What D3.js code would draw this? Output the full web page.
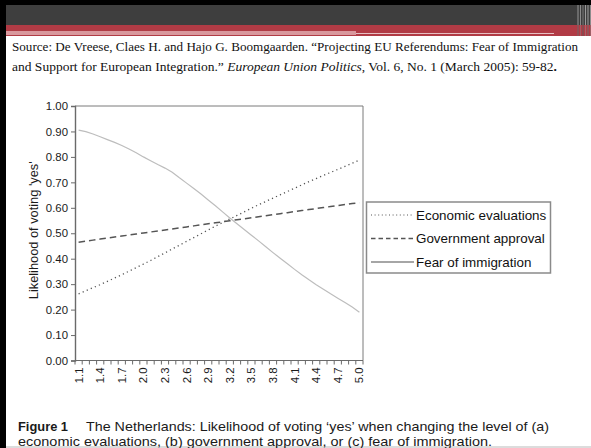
<!DOCTYPE html>
<html>
<head>
<meta charset="utf-8">
<script src="https://cdn.jsdelivr.net/npm/d3@7/dist/d3.min.js"></script>
<style>
  html, body { margin: 0; padding: 0; background: #fff; }
  svg { display: block; }
</style>
</head>
<body>
<svg id="slide" width="591" height="448"></svg>
<script>
// Predictor levels on the horizontal axis (1.1 .. 5.0)
const levels = ["1.1","1.2","1.3","1.4","1.5","1.6","1.7","1.8","1.9","2.0",
                "2.1","2.2","2.3","2.4","2.5","2.6","2.7","2.8","2.9","3.0",
                "3.1","3.2","3.3","3.4","3.5","3.6","3.7","3.8","3.9","4.0",
                "4.1","4.2","4.3","4.4","4.5","4.6","4.7","4.8","4.9","5.0"];
const shownLevels = ["1.1","1.4","1.7","2.0","2.3","2.6","2.9","3.2","3.5","3.8","4.1","4.4","4.7","5.0"];

// Predicted likelihood of voting 'yes'
const economicEvaluations = [0.262,0.274,0.286,0.298,0.311,0.324,0.337,0.351,0.365,0.379,
                             0.393,0.408,0.423,0.438,0.453,0.468,0.483,0.498,0.513,0.528,
                             0.542,0.556,0.570,0.584,0.598,0.612,0.625,0.638,0.651,0.664,
                             0.677,0.690,0.703,0.715,0.727,0.739,0.751,0.763,0.775,0.788];
const governmentApproval  = [0.465,0.469,0.473,0.477,0.481,0.485,0.489,0.493,0.497,0.501,
                             0.505,0.509,0.513,0.517,0.521,0.525,0.529,0.533,0.537,0.541,
                             0.545,0.549,0.553,0.557,0.561,0.565,0.569,0.573,0.577,0.581,
                             0.585,0.589,0.593,0.597,0.601,0.605,0.609,0.613,0.617,0.620];
const fearOfImmigration   = [0.905,0.899,0.890,0.879,0.868,0.857,0.845,0.831,0.816,0.800,
                             0.785,0.770,0.756,0.740,0.718,0.697,0.676,0.654,0.631,0.608,
                             0.584,0.560,0.537,0.515,0.492,0.470,0.447,0.424,0.402,0.380,
                             0.358,0.337,0.317,0.298,0.280,0.262,0.245,0.228,0.210,0.190];
const yTicks = [0,0.1,0.2,0.3,0.4,0.5,0.6,0.7,0.8,0.9,1.0];

const seriesNames = ["Economic evaluations","Government approval","Fear of immigration"];

const svg = d3.select("#slide");

// ---------- slide frame and header bands ----------
svg.append("rect").attr("x",0).attr("y",0).attr("width",591).attr("height",448).attr("fill","#fff");
svg.append("rect").attr("x",0).attr("y",0).attr("width",591).attr("height",5).attr("fill","#000");
svg.append("rect").attr("x",0).attr("y",0).attr("width",6).attr("height",448).attr("fill","#000");
svg.append("rect").attr("x",6).attr("y",5).attr("width",585).attr("height",20).attr("fill","#3e3e3e");
svg.append("rect").attr("x",6).attr("y",25).attr("width",585).attr("height",11).attr("fill","#b13b45");
svg.append("rect").attr("x",6).attr("y",31).attr("width",350).attr("height",4).attr("fill","#d9989d");
svg.append("rect").attr("x",356).attr("y",33).attr("width",198).attr("height",1).attr("fill","#e7c0c3");
// faint vertical stripes at the right end of the header
[[577,2,"#6a6a6a"],[580,1,"#8a8a8a"],[582,2,"#5a5a5a"],[585,1,"#9a9a9a"],[587,2,"#6e6e6e"],[590,1,"#8c8c8c"]]
  .forEach(([x,w,c]) => {
    svg.append("rect").attr("x",x).attr("y",5).attr("width",w).attr("height",20).attr("fill",c);
    svg.append("rect").attr("x",x).attr("y",25).attr("width",w).attr("height",11)
       .attr("fill",c).attr("opacity",0.45);
  });
svg.append("rect").attr("x",6).attr("y",446).attr("width",585).attr("height",2).attr("fill","#dcdcdc");

// ---------- source reference ----------
const serif = "'Liberation Serif','Times New Roman',serif";
svg.append("text")
  .attr("x",12).attr("y",51)
  .attr("font-family",serif).attr("font-size",13).attr("fill","#111")
  .attr("textLength",566).attr("lengthAdjust","spacingAndGlyphs")
  .text("Source: De Vreese, Claes H. and Hajo G. Boomgaarden. \u201CProjecting EU Referendums: Fear of Immigration");
const l2 = svg.append("text").attr("x",12).attr("y",71)
  .attr("font-family",serif).attr("font-size",13.5).attr("fill","#111");
l2.append("tspan").text("and Support for European Integration.\u201D ");
l2.append("tspan").attr("font-style","italic").text("European Union Politics");
l2.append("tspan").text(", Vol. 6, No. 1 (March 2005): 59-82");
l2.append("tspan").attr("font-weight","bold").text(".");

// ---------- chart ----------
const plot = {left:75, top:106, right:363, bottom:360.5};
const sans = "'Liberation Sans',Arial,sans-serif";

const x = d3.scaleBand().domain(levels).range([plot.left, plot.right]).padding(0);
const y = d3.scaleLinear().domain([0,1]).range([plot.bottom, plot.top]);
const cx = d => x(d) + x.bandwidth()/2;

const g = svg.append("g");

// plot frame (top and right)
g.append("path")
  .attr("d", `M${plot.left},${plot.top}H${plot.right}V${plot.bottom}`)
  .attr("fill","none").attr("stroke","#7a7a7a").attr("stroke-width",1);

// y axis
const yAxis = g.append("g").attr("transform",`translate(${plot.left},0)`)
  .call(d3.axisLeft(y).tickValues(yTicks).tickFormat(d3.format(".2f")).tickSize(4).tickPadding(3));
yAxis.select(".domain").attr("stroke","#6a6a6a").attr("stroke-width",1.4);
yAxis.selectAll(".tick line").attr("stroke","#6a6a6a");
yAxis.selectAll("text").attr("font-family",sans)
  .attr("font-size",11.4).attr("fill","#1a1a1a");

// x axis: ticks at category boundaries, labels every third level
const boundaries = levels.map(d => x(d)).concat([plot.right]);
const xg = g.append("g");
xg.append("line").attr("x1",plot.left).attr("x2",plot.right)
  .attr("y1",plot.bottom).attr("y2",plot.bottom).attr("stroke","#6a6a6a").attr("stroke-width",1.2);
xg.selectAll("line.tk").data(boundaries).join("line").attr("class","tk")
  .attr("x1",d=>d).attr("x2",d=>d).attr("y1",plot.bottom).attr("y2",plot.bottom+4)
  .attr("stroke","#6a6a6a").attr("stroke-width",1);
xg.selectAll("text").data(shownLevels).join("text")
  .attr("transform", d => `translate(${cx(d)+4},${plot.bottom+7}) rotate(-90)`)
  .attr("text-anchor","end")
  .attr("font-family",sans)
  .attr("font-size",11.4).attr("fill","#1a1a1a")
  .text(d => d);

// y axis title
g.append("text")
  .attr("transform",`translate(37.5,${(plot.top+plot.bottom)/2 - 3}) rotate(-90)`)
  .attr("text-anchor","middle")
  .attr("font-family",sans)
  .attr("font-size",12.8).attr("fill","#1a1a1a")
  .text("Likelihood of voting 'yes'");

// series lines
const line = d3.line().x((d,i) => cx(levels[i])).y(d => y(d));
const styles = [
  {data: economicEvaluations, stroke:"#555", width:1.3, dash:"1.2,3.2", lw:"1,2.6"},
  {data: governmentApproval,  stroke:"#555", width:1.5, dash:"6.5,4",   lw:"4.5,3"},
  {data: fearOfImmigration,   stroke:"#bdbdbd", width:1.2, dash:null,   lw:null}
];
styles.forEach(s => {
  g.append("path").datum(s.data)
    .attr("d", line).attr("fill","none")
    .attr("stroke", s.stroke).attr("stroke-width", s.width)
    .attr("stroke-dasharray", s.dash);
});

// legend
const lg = svg.append("g");
lg.append("rect").attr("x",366.5).attr("y",202).attr("width",184).attr("height",71)
  .attr("fill","#fff").attr("stroke","#8a8a8a").attr("stroke-width",1.5);
const rowY = [215, 238.5, 262];
seriesNames.forEach((name,i) => {
  const s = styles[i];
  lg.append("line").attr("x1",371).attr("x2",414).attr("y1",rowY[i]).attr("y2",rowY[i])
    .attr("stroke", i===2 ? "#888" : s.stroke).attr("stroke-width", i===0 ? 1 : 1.3)
    .attr("stroke-dasharray", s.lw);
  lg.append("text").attr("x",416).attr("y",rowY[i]+4.7)
    .attr("font-family",sans)
    .attr("font-size",13.4).attr("fill","#111").text(name);
});

// ---------- figure caption ----------
svg.append("text").attr("x",18).attr("y",430.5)
  .attr("font-family",sans).attr("font-size",13.6).attr("font-weight","bold").attr("fill","#1a1a1a")
  .attr("textLength",50).attr("lengthAdjust","spacingAndGlyphs")
  .text("Figure 1");
svg.append("text").attr("x",86).attr("y",430.5)
  .attr("font-family",sans).attr("font-size",13.6).attr("fill","#1a1a1a")
  .attr("textLength",463).attr("lengthAdjust","spacingAndGlyphs")
  .text("The Netherlands: Likelihood of voting \u2018yes\u2019 when changing the level of (a)");
svg.append("text").attr("x",18).attr("y",446)
  .attr("font-family",sans).attr("font-size",13.6).attr("fill","#1a1a1a")
  .attr("textLength",474).attr("lengthAdjust","spacingAndGlyphs")
  .text("economic evaluations, (b) government approval, or (c) fear of immigration.");
</script>
</body>
</html>
